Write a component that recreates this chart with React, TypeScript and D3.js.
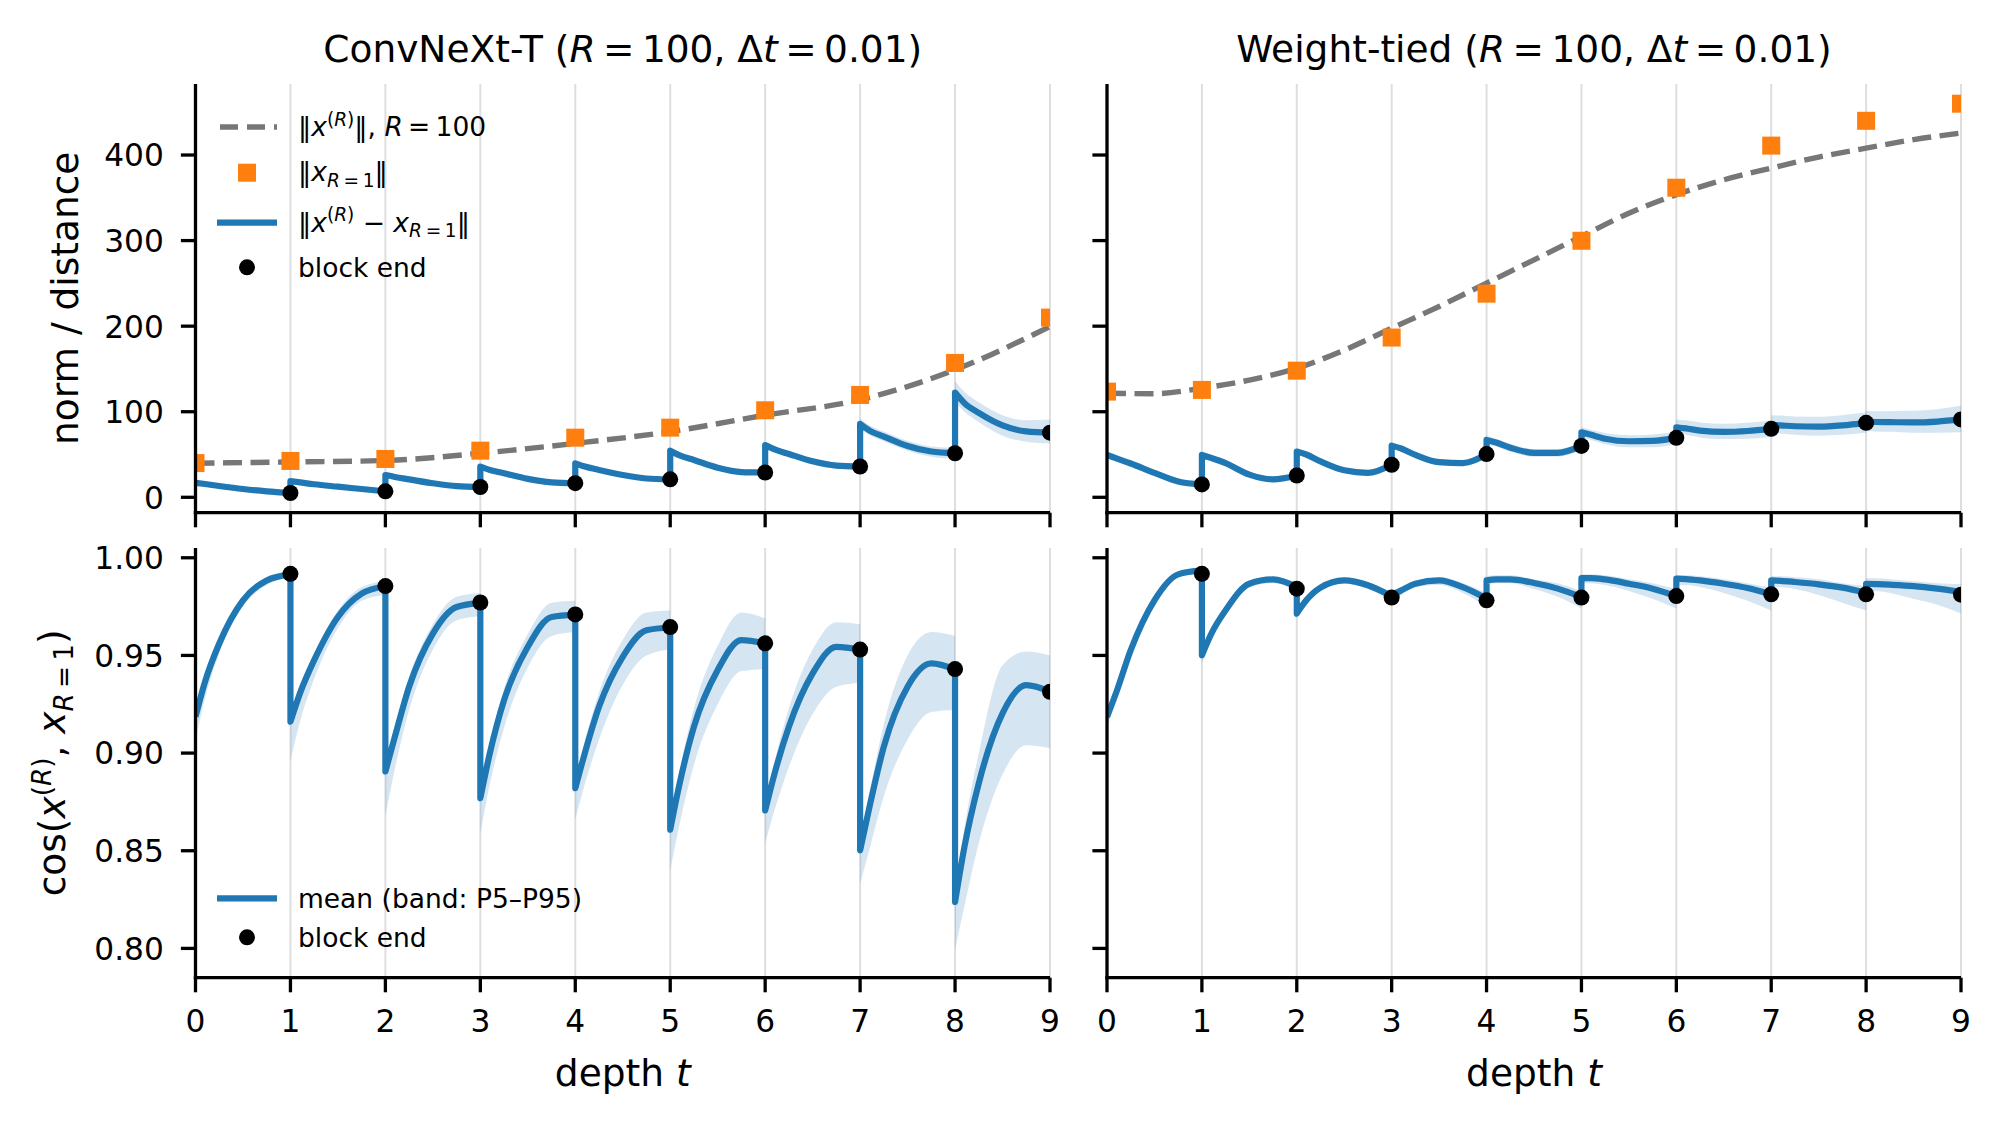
import React from 'react';
import * as d3 from 'd3';

// ---------- shared axes data ----------
const T_TICKS = [0, 1, 2, 3, 4, 5, 6, 7, 8, 9];
const NORM_TICKS = [0, 100, 200, 300, 400];
const COS_TICKS = [0.8, 0.85, 0.9, 0.95, 1.0];
const FRAC = [0, 0.1, 0.25, 0.5, 0.75, 1]; // sample positions inside each block
const END_T = [1, 2, 3, 4, 5, 6, 7, 8, 9];

// ---------- ConvNeXt-T ----------
const CNX_NORM_T = [0, 1, 2, 3, 4, 5, 6, 7, 8, 9];
const CNX_NORM_R100 = [39.8, 41.3, 43, 51.5, 63, 76.7, 96, 114, 149, 199.6];
const CNX_NORM_R1 = [40, 42.5, 44.8, 54.5, 69.7, 81.4, 101.7, 119.6, 157, 210];
const CNX_DIST_MEAN = [
  [17, 15.5, 13.2, 9.7, 7, 5],
  [19, 17.5, 15.2, 12.4, 9.7, 7],
  [26, 23.8, 21, 16.4, 13, 12],
  [35.8, 32, 28, 21.5, 17.5, 16.5],
  [39.7, 36, 32, 26, 22, 21],
  [54.5, 49, 43.6, 34.5, 29.5, 29],
  [61, 56, 50.6, 42, 37, 36],
  [85.7, 78, 71, 60, 53.5, 51.5],
  [122.4, 110, 98.6, 84, 77, 75.5],
];
const CNX_DIST_LO = [
  [15.5, 14, 11.7, 8.2, 5.5, 3.5],
  [17.5, 16, 13.7, 10.9, 8.2, 5.5],
  [24, 21.8, 19, 14.4, 11, 10],
  [33.5, 29.7, 25.7, 19.2, 15.2, 14.2],
  [37.2, 33.5, 29.5, 23.5, 19.5, 18.5],
  [51.5, 46, 40.6, 31.5, 26.5, 26],
  [57.5, 52.5, 47, 38.5, 33.5, 32.5],
  [80, 72.5, 65.5, 54.5, 47.5, 45],
  [112, 100, 88, 72, 65, 63],
];
const CNX_DIST_HI = [
  [18.5, 17, 14.7, 11.2, 8.5, 6.5],
  [20.5, 19, 16.7, 13.9, 11.2, 8.5],
  [28, 25.8, 23, 18.4, 15, 14],
  [38, 34.3, 30.3, 23.8, 19.8, 18.8],
  [42.2, 38.5, 34.5, 28.5, 24.5, 23.5],
  [57.5, 52, 46.6, 37.5, 32.5, 32],
  [64.5, 59.5, 54, 45.5, 40.5, 39.5],
  [92, 84, 77, 66, 59.5, 58],
  [136, 123, 111, 96, 90, 91],
];
const CNX_DIST_END = [5, 7, 12, 16.5, 21, 29, 36, 51.5, 75.5];

const CNX_COS_MEAN = [
  [0.9186, 0.9365, 0.9561, 0.9782, 0.9884, 0.9915],
  [0.9161, 0.9306, 0.9476, 0.9697, 0.9816, 0.9854],
  [0.8906, 0.9084, 0.934, 0.9612, 0.9748, 0.9769],
  [0.8769, 0.8999, 0.9271, 0.9544, 0.9697, 0.9709],
  [0.882, 0.8999, 0.9237, 0.9493, 0.9629, 0.9643],
  [0.8608, 0.8846, 0.9135, 0.9425, 0.9578, 0.9561],
  [0.8706, 0.8897, 0.9135, 0.9408, 0.9544, 0.953],
  [0.8502, 0.8727, 0.9033, 0.934, 0.9459, 0.9428],
  [0.8238, 0.8523, 0.8846, 0.9203, 0.9348, 0.9314],
];
const CNX_COS_LO = [
  [0.907, 0.928, 0.951, 0.975, 0.986, 0.99],
  [0.896, 0.916, 0.938, 0.964, 0.978, 0.981],
  [0.868, 0.892, 0.922, 0.953, 0.968, 0.97],
  [0.859, 0.884, 0.913, 0.944, 0.96, 0.962],
  [0.866, 0.884, 0.907, 0.935, 0.95, 0.953],
  [0.84, 0.864, 0.894, 0.925, 0.942, 0.943],
  [0.854, 0.871, 0.893, 0.92, 0.934, 0.936],
  [0.833, 0.851, 0.878, 0.907, 0.921, 0.922],
  [0.7995, 0.822, 0.854, 0.889, 0.904, 0.9025],
];
const CNX_COS_HI = [
  [0.925, 0.941, 0.959, 0.98, 0.99, 0.993],
  [0.919, 0.934, 0.951, 0.973, 0.985, 0.988],
  [0.894, 0.913, 0.939, 0.966, 0.98, 0.982],
  [0.881, 0.905, 0.933, 0.961, 0.977, 0.978],
  [0.886, 0.906, 0.931, 0.958, 0.972, 0.973],
  [0.864, 0.891, 0.923, 0.955, 0.972, 0.969],
  [0.874, 0.896, 0.923, 0.953, 0.967, 0.966],
  [0.854, 0.88, 0.915, 0.95, 0.962, 0.96],
  [0.828, 0.862, 0.9, 0.945, 0.952, 0.95],
];
const CNX_COS_END = [0.9918, 0.9855, 0.9771, 0.971, 0.9645, 0.9562, 0.953, 0.943, 0.9314];

// ---------- Weight-tied ----------
const WT_NORM_T = [0, 0.5, 1, 1.5, 2, 2.5, 3, 3.5, 4, 4.5, 5, 5.5, 6, 6.5, 7, 7.5, 8, 8.5, 9];
const WT_NORM_R100 = [121.6, 121, 127.5, 137, 150.9, 172, 197.6, 223, 250.3, 277.5, 304.8, 332, 353.6, 371, 384.8, 397.6, 408, 418, 425.7];
const WT_NORM_R1 = [123.5, 125.5, 148, 186.7, 238, 299.8, 361.8, 411, 440, 460];
const WT_DIST_MEAN = [
  [49.5, 45.5, 39.5, 28.5, 18.5, 15],
  [49.5, 46, 40, 26.5, 21, 25.5],
  [53.4, 50, 42, 31.5, 28.5, 38],
  [60.4, 57, 49.5, 41, 40, 50.5],
  [67, 64, 58, 52, 52, 60],
  [76, 73, 68.5, 65.5, 66, 69.5],
  [81.8, 80.5, 78, 76.5, 77.5, 80],
  [84.6, 84, 83, 82.5, 84, 87],
  [88.4, 88, 87.8, 87.5, 88.5, 91],
];
const WT_DIST_LO = [
  [47, 43, 37, 26.5, 16.5, 13],
  [47, 43.5, 37.5, 24, 18.5, 23],
  [50.5, 47, 39, 28.5, 25.5, 35],
  [57, 53.5, 46, 37.5, 36.5, 47],
  [62.5, 59.5, 53.5, 47.5, 47.5, 55.5],
  [70, 67, 62, 58.5, 58.5, 62],
  [74.5, 73, 70, 68, 68.5, 70.5],
  [75, 74.5, 73, 72, 73, 75.5],
  [77.5, 77, 76.5, 75.5, 75.5, 76],
];
const WT_DIST_HI = [
  [52, 48, 42, 31, 20.5, 17],
  [52, 48.5, 42.5, 29, 23.5, 28],
  [56.5, 53, 45, 34.5, 31.5, 41],
  [64, 60.5, 53, 44.5, 43.5, 54],
  [71.5, 68.5, 62.5, 56.5, 56.5, 64.5],
  [82, 79, 75, 72.5, 73.5, 77],
  [91, 90, 87.5, 86, 87, 90],
  [96, 95.5, 94.5, 94, 96, 99],
  [101, 100.5, 100.5, 101, 103, 107],
];
const WT_DIST_END = [15, 25.5, 38, 50.5, 60, 69.5, 80, 87, 91];

const WT_COS_MEAN = [
  [0.9186, 0.9314, 0.9527, 0.9782, 0.9915, 0.9935],
  [0.9501, 0.9612, 0.9731, 0.9867, 0.9889, 0.985],
  [0.9714, 0.9782, 0.9847, 0.9884, 0.9859, 0.9803],
  [0.9808, 0.9833, 0.9867, 0.9884, 0.985, 0.9791],
  [0.9884, 0.9889, 0.9889, 0.9871, 0.9842, 0.9799],
  [0.9896, 0.9896, 0.9889, 0.9867, 0.9842, 0.9804],
  [0.9893, 0.9891, 0.9884, 0.9867, 0.9845, 0.9813],
  [0.9884, 0.9882, 0.9876, 0.9864, 0.9847, 0.9821],
  [0.9867, 0.9865, 0.9862, 0.9855, 0.9842, 0.9825],
];
const WT_COS_LO = [
  [0.913, 0.927, 0.95, 0.976, 0.99, 0.992],
  [0.946, 0.958, 0.971, 0.985, 0.987, 0.984],
  [0.969, 0.976, 0.983, 0.987, 0.984, 0.978],
  [0.978, 0.981, 0.985, 0.986, 0.982, 0.975],
  [0.986, 0.987, 0.987, 0.984, 0.98, 0.974],
  [0.987, 0.987, 0.986, 0.983, 0.979, 0.974],
  [0.986, 0.986, 0.985, 0.982, 0.978, 0.973],
  [0.985, 0.985, 0.984, 0.981, 0.977, 0.973],
  [0.983, 0.983, 0.982, 0.979, 0.976, 0.9715],
];
const WT_COS_HI = [
  [0.922, 0.934, 0.955, 0.98, 0.993, 0.995],
  [0.952, 0.963, 0.975, 0.988, 0.99, 0.987],
  [0.973, 0.98, 0.986, 0.99, 0.9875, 0.982],
  [0.982, 0.985, 0.988, 0.99, 0.987, 0.982],
  [0.9905, 0.991, 0.991, 0.989, 0.987, 0.983],
  [0.9915, 0.9915, 0.991, 0.989, 0.987, 0.984],
  [0.991, 0.991, 0.9905, 0.989, 0.987, 0.9845],
  [0.9905, 0.9905, 0.99, 0.989, 0.987, 0.9855],
  [0.9895, 0.9895, 0.989, 0.988, 0.987, 0.9865],
];
const WT_COS_END = [0.9918, 0.9842, 0.9796, 0.9782, 0.9796, 0.9804, 0.9813, 0.9813, 0.9811];

// ---------- styling / layout ----------
const FONT = 'DejaVu Sans, sans-serif';
const BLUE = '#1f77b4';
const ORANGE = '#ff7f0e';
const GRAYD = '#777777';
const GRID = '#dedede';
const COLS = [
  { x0: 195.5, x1: 1050 },
  { x0: 1107, x1: 1961 },
];
const ROWS = [
  { y0: 84, y1: 512.7 },
  { y0: 548, y1: 977.7 },
];
const TICK_FS = 31.25;
const LABEL_FS = 37.5;
const LEG_FS = 26.5;
const TICK_LEN = 14.6;
const SPINE_W = 3.3;
const TS = '\u2009'; // thin space used around relations (mathtext spacing)

type Tok = { s: string; it?: boolean; pos?: 'sup' | 'sub' };

function MathText(props: {
  x: number;
  y: number;
  size: number;
  toks: Tok[];
  anchor?: string;
  transform?: string;
}) {
  const { x, y, size, toks, anchor = 'start', transform } = props;
  let cur = 0;
  const spans = toks.map((tk, i) => {
    const target = tk.pos === 'sup' ? -0.38 * size : tk.pos === 'sub' ? 0.22 * size : 0;
    const dy = target - cur;
    cur = target;
    return (
      <tspan
        key={i}
        dy={dy}
        fontStyle={tk.it ? 'italic' : 'normal'}
        fontSize={tk.pos ? size * 0.7 : size}
      >
        {tk.s}
      </tspan>
    );
  });
  return (
    <text
      x={x}
      y={y}
      fontSize={size}
      fontFamily={FONT}
      textAnchor={anchor}
      transform={transform}
      style={{ whiteSpace: 'pre' }}
      fill="#000"
    >
      {spans}
    </text>
  );
}

const SUP_R: Tok[] = [
  { s: '(', pos: 'sup' },
  { s: 'R', it: true, pos: 'sup' },
  { s: ')', pos: 'sup' },
];
const SUB_R1: Tok[] = [
  { s: 'R', it: true, pos: 'sub' },
  { s: TS + '=' + TS + '1', pos: 'sub' },
];

function blockLine(x: any, y: any, mean: number[][]) {
  let d = '';
  const gen = d3.line().curve(d3.curveMonotoneX);
  mean.forEach((vals, k) => {
    const pts = vals.map((v, i) => [x(k + FRAC[i]), y(v)] as [number, number]);
    const seg = gen(pts) || '';
    d += k === 0 ? seg : 'L' + seg.slice(1);
  });
  return d;
}

function blockBands(x: any, y: any, lo: number[][], hi: number[][]) {
  return lo.map((vals, k) => {
    const idx = vals.map((_, i) => i);
    const gen = d3
      .area<number>()
      .x((i) => x(k + FRAC[i]))
      .y0((i) => y(lo[k][i]))
      .y1((i) => y(hi[k][i]))
      .curve(d3.curveMonotoneX);
    return gen(idx) || '';
  });
}

function Panel(props: {
  id: string;
  col: number;
  row: number;
  mean: number[][];
  lo: number[][];
  hi: number[][];
  ends: number[];
  normT?: number[];
  normR100?: number[];
  normR1?: number[];
}) {
  const { id, col, row, mean, lo, hi, ends, normT, normR100, normR1 } = props;
  const { x0, x1 } = COLS[col];
  const { y0, y1 } = ROWS[row];
  const x = d3.scaleLinear().domain([0, 9]).range([x0, x1]);
  const isTop = row === 0;
  const y = d3
    .scaleLinear()
    .domain(isTop ? [-18, 483] : [0.785, 1.005])
    .range([y1, y0]);
  const yTicks = isTop ? NORM_TICKS : COS_TICKS;
  const fmt = isTop ? d3.format('d') : d3.format('.2f');
  const bands = blockBands(x, y, lo, hi);
  const linePath = blockLine(x, y, mean);
  const dashGen = d3
    .line<number>()
    .x((_, i) => x(normT ? normT[i] : 0))
    .y((v) => y(v))
    .curve(d3.curveMonotoneX);
  return (
    <g>
      <defs>
        <clipPath id={id}>
          <rect x={x0} y={y0} width={x1 - x0} height={y1 - y0} />
        </clipPath>
      </defs>
      {T_TICKS.map((t) => (
        <line key={'g' + t} x1={x(t)} x2={x(t)} y1={y0} y2={y1} stroke={GRID} strokeWidth={2} />
      ))}
      <g clipPath={`url(#${id})`}>
        {bands.map((d, k) => (
          <path key={'b' + k} d={d} fill={BLUE} fillOpacity={0.19} stroke="none" />
        ))}
        {normR100 && (
          <path
            d={dashGen(normR100) || ''}
            fill="none"
            stroke={GRAYD}
            strokeWidth={5.4}
            strokeDasharray="19,8.5"
          />
        )}
        <path d={linePath} fill="none" stroke={BLUE} strokeWidth={6.2} strokeLinejoin="round" />
        {normR1 &&
          normR1.map((v, i) => (
            <rect key={'s' + i} x={x(T_TICKS[i]) - 9} y={y(v) - 9} width={18} height={18} fill={ORANGE} />
          ))}
        {ends.map((v, i) => (
          <circle key={'d' + i} cx={x(END_T[i])} cy={y(v)} r={8} fill="#000" />
        ))}
      </g>
      {/* spines */}
      <line x1={x0} x2={x0} y1={y0} y2={y1 + SPINE_W / 2} stroke="#000" strokeWidth={SPINE_W} />
      <line x1={x0 - SPINE_W / 2} x2={x1} y1={y1} y2={y1} stroke="#000" strokeWidth={SPINE_W} />
      {/* x ticks */}
      {T_TICKS.map((t) => (
        <g key={'xt' + t}>
          <line x1={x(t)} x2={x(t)} y1={y1} y2={y1 + TICK_LEN} stroke="#000" strokeWidth={SPINE_W} />
          {!isTop && (
            <text x={x(t)} y={1031.7} fontSize={TICK_FS} fontFamily={FONT} textAnchor="middle">
              {String(t)}
            </text>
          )}
        </g>
      ))}
      {/* y ticks */}
      {yTicks.map((v) => (
        <g key={'yt' + v}>
          <line x1={x0 - TICK_LEN} x2={x0} y1={y(v)} y2={y(v)} stroke="#000" strokeWidth={SPINE_W} />
          {col === 0 && (
            <text
              x={x0 - TICK_LEN - 17}
              y={y(v) + 0.365 * TICK_FS}
              fontSize={TICK_FS}
              fontFamily={FONT}
              textAnchor="end"
            >
              {fmt(v)}
            </text>
          )}
        </g>
      ))}
    </g>
  );
}

export default function App() {
  const legLineX1 = 217;
  const legLineX2 = 277;
  const legMx = 247;
  const legTx = 298;
  const titleToks = (name: string): Tok[] => [
    { s: name + ' (' },
    { s: 'R', it: true },
    { s: TS + '=' + TS + '100, Δ' },
    { s: 't', it: true },
    { s: TS + '=' + TS + '0.01)' },
  ];
  return (
    <svg
      width={2001}
      height={1126}
      viewBox="0 0 2001 1126"
      style={{ position: 'absolute', left: 0, top: 0, background: '#fff' }}
    >
      <rect x={0} y={0} width={2001} height={1126} fill="#fff" />
      <Panel
        id="c-tl"
        col={0}
        row={0}
        mean={CNX_DIST_MEAN}
        lo={CNX_DIST_LO}
        hi={CNX_DIST_HI}
        ends={CNX_DIST_END}
        normT={CNX_NORM_T}
        normR100={CNX_NORM_R100}
        normR1={CNX_NORM_R1}
      />
      <Panel
        id="c-tr"
        col={1}
        row={0}
        mean={WT_DIST_MEAN}
        lo={WT_DIST_LO}
        hi={WT_DIST_HI}
        ends={WT_DIST_END}
        normT={WT_NORM_T}
        normR100={WT_NORM_R100}
        normR1={WT_NORM_R1}
      />
      <Panel id="c-bl" col={0} row={1} mean={CNX_COS_MEAN} lo={CNX_COS_LO} hi={CNX_COS_HI} ends={CNX_COS_END} />
      <Panel id="c-br" col={1} row={1} mean={WT_COS_MEAN} lo={WT_COS_LO} hi={WT_COS_HI} ends={WT_COS_END} />

      {/* titles */}
      <MathText
        x={(COLS[0].x0 + COLS[0].x1) / 2}
        y={61.7}
        size={LABEL_FS}
        anchor="middle"
        toks={titleToks('ConvNeXt-T')}
      />
      <MathText
        x={(COLS[1].x0 + COLS[1].x1) / 2}
        y={61.7}
        size={LABEL_FS}
        anchor="middle"
        toks={titleToks('Weight-tied')}
      />

      {/* x labels */}
      {COLS.map((c, i) => (
        <MathText
          key={'xl' + i}
          x={(c.x0 + c.x1) / 2}
          y={1086}
          size={LABEL_FS}
          anchor="middle"
          toks={[{ s: 'depth ' }, { s: 't', it: true }]}
        />
      ))}

      {/* y labels */}
      <MathText
        x={0}
        y={0}
        size={LABEL_FS}
        anchor="middle"
        transform={`translate(78.3, ${(ROWS[0].y0 + ROWS[0].y1) / 2}) rotate(-90)`}
        toks={[{ s: 'norm / distance' }]}
      />
      <MathText
        x={0}
        y={0}
        size={LABEL_FS}
        anchor="middle"
        transform={`translate(65, ${(ROWS[1].y0 + ROWS[1].y1) / 2}) rotate(-90)`}
        toks={[{ s: 'cos(' }, { s: 'x', it: true }, ...SUP_R, { s: ', ' }, { s: 'x', it: true }, ...SUB_R1, { s: ')' }]}
      />

      {/* top-left legend */}
      <line x1={legLineX1 + 3} x2={legLineX2} y1={127} y2={127} stroke={GRAYD} strokeWidth={5.4} strokeDasharray="18,9" />
      <MathText
        x={legTx}
        y={136}
        size={LEG_FS}
        toks={[{ s: '‖' }, { s: 'x', it: true }, ...SUP_R, { s: '‖, ' }, { s: 'R', it: true }, { s: TS + '=' + TS + '100' }]}
      />
      <rect x={legMx - 9} y={172.7 - 9} width={18} height={18} fill={ORANGE} />
      <MathText x={legTx} y={181} size={LEG_FS} toks={[{ s: '‖' }, { s: 'x', it: true }, ...SUB_R1, { s: '‖' }]} />
      <line x1={legLineX1} x2={legLineX2} y1={222.7} y2={222.7} stroke={BLUE} strokeWidth={6.2} />
      <MathText
        x={legTx}
        y={231.5}
        size={LEG_FS}
        toks={[{ s: '‖' }, { s: 'x', it: true }, ...SUP_R, { s: ' − ' }, { s: 'x', it: true }, ...SUB_R1, { s: '‖' }]}
      />
      <circle cx={legMx} cy={267.3} r={8} fill="#000" />
      <MathText x={legTx} y={276.5} size={LEG_FS} toks={[{ s: 'block end' }]} />

      {/* bottom-left legend */}
      <line x1={legLineX1} x2={legLineX2} y1={898.3} y2={898.3} stroke={BLUE} strokeWidth={6.2} />
      <MathText x={legTx} y={908.3} size={LEG_FS} toks={[{ s: 'mean (band: P5–P95)' }]} />
      <circle cx={legMx} cy={937.3} r={8} fill="#000" />
      <MathText x={legTx} y={947.3} size={LEG_FS} toks={[{ s: 'block end' }]} />
    </svg>
  );
}
